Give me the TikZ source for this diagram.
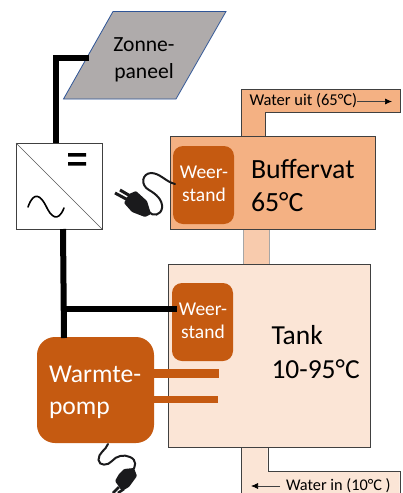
\documentclass[tikz,border=0pt]{standalone}
\usepackage{fontspec}
\setmainfont{Carlito}
\usetikzlibrary{calc,arrows.meta}
\definecolor{rust}{HTML}{C55A11}
\definecolor{buf}{HTML}{F4B183}
\definecolor{mid}{HTML}{F8CBAD}
\definecolor{pale}{HTML}{FBE5D6}
\definecolor{panelgray}{HTML}{AFABAB}
\definecolor{panelblue}{HTML}{2F5597}
\definecolor{edge}{HTML}{404040}
\definecolor{ink}{HTML}{1A1A1C}
\newcommand{\fsz}[2]{\fontsize{#1}{#2}\selectfont}
\tikzset{
  x=1pt,y=-1pt,
  boxnode/.style={rectangle,draw=edge,line width=1pt,inner sep=0pt,outer sep=0pt},
  rustbox/.style={rectangle,rounded corners=#1,fill=rust,draw=none,inner sep=0pt,outer sep=0pt},
  powerwire/.style={draw=black,line width=6pt},
  pipefill/.style={draw=edge,line width=1pt},
  txt/.style={inner sep=0pt,outer sep=0pt,text=black},
  heaterlabel/.style={txt,text=white,align=center,font=\fsz{19.5}{23}},
  cable/.style={draw=ink,line width=2pt,line cap=round},
  plugpart/.style={fill=ink,draw=none},
  smallarrow/.style={draw=edge,line width=.7pt,-{Latex[length=7pt,width=6pt,black]}}
}
\begin{document}
\begin{tikzpicture}
\useasboundingbox (0,0) rectangle (402,493);
\fill[white] (0,0) rectangle (402,493);
% pipes
\draw[pipefill,fill=buf] (241,137) -- (241,89) -- (400,89) -- (400,112) -- (265,112) -- (265,137);
\fill[pale] (241.5,447) rectangle (267.5,493) (267.5,471.5) rectangle (399.5,493);
\draw[pipefill] (241,447) -- (241,493) (268,447) -- (268,471) -- (400,471) -- (400,493);
\node[rectangle,draw=black!35,line width=.6pt,fill=mid,minimum width=26pt,minimum height=35pt,inner sep=0pt] (link) at (256,247) {};
% tanks
\node[boxnode,fill=buf,minimum width=205pt,minimum height=93pt] (buffer) at (272.5,182.5) {};
\node[boxnode,fill=pale,minimum width=202pt,minimum height=183pt] (tank) at (269,355.5) {};
\node[txt,align=left,anchor=west,font=\fsz{27.8}{33}] (buffertext) at (251,185) {Buffervat\\65°C};
\node[txt,align=left,anchor=west,font=\fsz{27.5}{34}] (tanktext) at (271.5,352) {Tank\\10-95°C};
% heaters
\node[rustbox=10pt,minimum width=61pt,minimum height=78pt] (heaterA) at (203.5,185) {};
\node[heaterlabel] (heaterAtext) at (204,184) {Weer-\\stand};
\node[rustbox=10pt,minimum width=61pt,minimum height=78pt] (heaterB) at (202.5,322) {};
\node[heaterlabel] (heaterBtext) at (203,321) {Weer-\\stand};
% heat pump
\fill[rust] (150,369) rectangle (219,378);
\fill[rust] (150,396) rectangle (218,403);
\node[rustbox=18pt,minimum width=117pt,minimum height=106pt] (pump) at (95.5,390) {};
\node[txt,text=white,align=left,anchor=west,font=\fsz{25.6}{32}] (pumptext) at (49,392) {Warmte-\\pomp};
% solar panel
\draw[fill=panelgray,draw=panelblue,line width=.8pt] (113,11.5) -- (226,11.5) -- (176,99) -- (63.5,99) -- cycle;
\node[txt,align=center,font=\fsz{21.6}{27}] (panel) at (144,59.5) {Zonne-\\paneel};
% inverter
\node[rectangle,draw=black!75,fill=white,line width=.8pt,minimum width=86pt,minimum height=86pt,inner sep=0pt,outer sep=0pt] (inverter) at (59,186) {};
\draw[black!65,line width=.6pt] (inverter.north west) -- (inverter.south east);
\fill[black] (68,153) rectangle (86,156.5) (68,162) rectangle (86,165.5);
\draw[black,line width=1.6pt,line cap=round] (28,207) .. controls (34,190) and (41,196) .. (46,206) .. controls (51,217) and (58,223) .. (64,208);
% wires
\coordinate (panelfoot) at (89,58);
\coordinate (wirecorner) at (56,58);
\coordinate (wiretop) at (56,143);
\coordinate (wirebottom) at (63,229);
\coordinate (pumptop) at (64,338);
\coordinate (branch) at (64,309);
\coordinate (heaterBin) at (177,309);
\draw[powerwire] (panelfoot) -- (wirecorner) -- (wiretop);
\draw[powerwire] (wirebottom) -- (pumptop);
\draw[powerwire] (branch) -- (heaterBin);
% plug 1
\coordinate (plugAend) at (175,184);
\draw[cable] (plugAend) .. controls (166,182) and (160,173) .. (151,173) .. controls (142,173.5) and (140,185) .. (149,190) .. controls (156,194) and (163,200) .. (162,208) .. controls (161,215) and (153,217) .. (149,212);
\fill[plugpart,rounded corners=1pt] (124,203) -- (129,194) -- (136,191) -- (147,201) -- (151,214) -- (145,217) -- (132,212) -- cycle;
\draw[ink,line width=3pt] (115,193) -- (128,200) (120,190) -- (132,197);
% plug 2
\coordinate (plugBend) at (108,444);
\draw[cable] (plugBend) .. controls (106,450) and (98,453) .. (98.5,460) .. controls (99,466) and (108,466) .. (112,461) .. controls (116,456) and (124,454) .. (130,457) .. controls (137,460) and (136,467) .. (132,471);
\fill[plugpart,rounded corners=1pt] (124,469) -- (134,468) -- (137,476) -- (129,487) -- (122,491) -- (115,481) -- (119,474) -- cycle;
\draw[ink,line width=2.6pt] (119,487) -- (113,493) (124,489) -- (118,493);
% water labels
\node[txt,anchor=base west,font=\fsz{16.5}{16.5}] (waterout) at (249.5,105) {Water uit (65°C)};
\coordinate (waterouttip) at (392,101.5);
\draw[smallarrow] (waterout.east |- waterouttip) -- (waterouttip);
\node[txt,anchor=base west,font=\fsz{16.3}{16.3}] (waterin) at (286,490) {Water in (10°C )};
\coordinate (waterintip) at (251,486);
\draw[smallarrow] (280,486) -- (waterintip);
\end{tikzpicture}
\end{document}
